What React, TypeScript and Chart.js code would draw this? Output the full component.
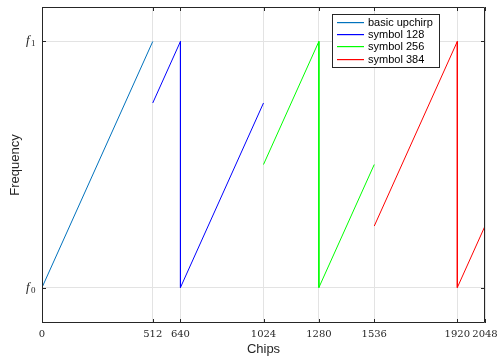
import React, { useEffect, useRef } from "react";
import { Chart, registerables } from "chart.js";

Chart.register(...registerables);

const seriesNames = ["basic upchirp", "symbol 128", "symbol 256", "symbol 384"];
const seriesColors = ["#0072BD", "#0000FF", "#00FF00", "#FF0000"];

const chipsBasic = [0, 512];
const freqBasic = [0, 1];
const chips128 = [512, 640, 640, 1024];
const freq128 = [0.75, 1, 0, 0.75];
const chips256 = [1024, 1280, 1280, 1536];
const freq256 = [0.5, 1, 0, 0.5];
const chips384 = [1536, 1920, 1920, 2048];
const freq384 = [0.25, 1, 0, 0.25];

const xTicks = [0, 512, 640, 1024, 1280, 1536, 1920, 2048];
const yTicks = [0, 1];
const yTickBase = ["f", "f"];
const yTickSub = ["0", "1"];

const zip = (xs: number[], ys: number[]) => xs.map((x, i) => ({ x, y: ys[i] }));

const seriesData = [
  zip(chipsBasic, freqBasic),
  zip(chips128, freq128),
  zip(chips256, freq256),
  zip(chips384, freq384),
];

const decorPlugin = {
  id: "decor",
  afterDraw(chart: any) {
    const ctx = chart.ctx;
    const a = chart.chartArea;
    const xs = chart.scales.x;
    const ys = chart.scales.y;
    ctx.save();
    ctx.globalAlpha = 1;
    ctx.setLineDash([]);
    ctx.strokeStyle = "#262626";
    ctx.lineWidth = 1;
    ctx.beginPath();
    ctx.moveTo(a.left + 0.5, a.top + 0.5);
    ctx.lineTo(a.right - 0.5, a.top + 0.5);
    ctx.lineTo(a.right - 0.5, a.bottom - 0.5);
    ctx.lineTo(a.left + 0.5, a.bottom - 0.5);
    ctx.closePath();
    ctx.stroke();
    const tl = 4;
    ctx.beginPath();
    xTicks.forEach((v) => {
      const px = Math.round(xs.getPixelForValue(v)) + 0.5;
      ctx.moveTo(px, a.bottom);
      ctx.lineTo(px, a.bottom - tl);
      ctx.moveTo(px, a.top);
      ctx.lineTo(px, a.top + tl);
    });
    yTicks.forEach((v) => {
      const py = Math.round(ys.getPixelForValue(v)) + 0.5;
      ctx.moveTo(a.left, py);
      ctx.lineTo(a.left + tl, py);
      ctx.moveTo(a.right, py);
      ctx.lineTo(a.right - tl, py);
    });
    ctx.stroke();
    // y tick labels (f with subscript)
    ctx.fillStyle = "#262626";
    ctx.textAlign = "left";
    ctx.textBaseline = "alphabetic";
    yTicks.forEach((v, i) => {
      const py = ys.getPixelForValue(v);
      ctx.font = "italic 13px 'Liberation Serif', 'DejaVu Serif', serif";
      ctx.fillText(yTickBase[i], 26, py + 3);
      ctx.font = "9px 'Liberation Serif', 'DejaVu Serif', serif";
      ctx.fillText(yTickSub[i], 31, py + 5);
    });
    // legend
    const lx = 332.5, ly = 14.5, lw = 107, lh = 53;
    ctx.fillStyle = "#ffffff";
    ctx.fillRect(lx, ly, lw, lh);
    ctx.strokeStyle = "#262626";
    ctx.strokeRect(lx, ly, lw, lh);
    ctx.font = "11px 'Liberation Sans', Arial, sans-serif";
    ctx.textBaseline = "middle";
    ctx.textAlign = "left";
    for (let i = 0; i < seriesNames.length; i++) {
      const ry = Math.round(22 + i * 12.2);
      ctx.fillStyle = seriesColors[i];
      ctx.fillRect(337, ry, 27, 1.2);
      ctx.fillStyle = "#000000";
      ctx.fillText(seriesNames[i], 368, ry + 1);
    }
    ctx.restore();
  },
};

export default function App() {
  const ref = useRef<HTMLCanvasElement | null>(null);
  useEffect(() => {
    if (!ref.current) return;
    const chart = new Chart(ref.current, {
      type: "line",
      data: {
        datasets: seriesData.map((d, i) => ({
          label: seriesNames[i],
          data: d,
          borderColor: seriesColors[i],
          backgroundColor: seriesColors[i],
          borderWidth: 1,
          pointRadius: 0,
          tension: 0,
          fill: false,
        })),
      },
      options: {
        responsive: false,
        animation: false,
        layout: { padding: { left: 0, right: 12, top: 7, bottom: 0 } },
        plugins: {
          legend: { display: false },
          tooltip: { enabled: false },
        },
        scales: {
          x: {
            type: "linear",
            min: 0,
            max: 2048,
            afterBuildTicks: (scale: any) => {
              scale.ticks = xTicks.map((v) => ({ value: v }));
            },
            afterFit: (scale: any) => {
              scale.height = 36;
              scale.paddingLeft = 0;
              scale.paddingRight = 0;
            },
            ticks: {
              autoSkip: false,
              maxRotation: 0,
              padding: 5,
              color: "#262626",
              font: { family: "'DejaVu Serif', 'Liberation Serif', serif", size: 10 },
              callback: (v: any) => String(v),
            },
            grid: { color: "#e3e3e3", drawTicks: false, tickLength: 0 },
            border: { display: false },
            title: {
              display: true,
              text: "Chips",
              color: "#262626",
              font: { family: "'Liberation Sans', Arial, sans-serif", size: 13 },
              padding: { top: 0, bottom: 2 },
            },
          },
          y: {
            type: "linear",
            min: -0.144,
            max: 1.14,
            afterBuildTicks: (scale: any) => {
              scale.ticks = yTicks.map((v) => ({ value: v }));
            },
            afterFit: (scale: any) => {
              scale.width = 42;
              scale.paddingTop = 0;
              scale.paddingBottom = 0;
            },
            ticks: {
              display: false,
            },
            grid: { color: "#e3e3e3", drawTicks: false, tickLength: 0 },
            border: { display: false },
            title: {
              display: true,
              text: "Frequency",
              color: "#262626",
              font: { family: "'Liberation Sans', Arial, sans-serif", size: 13 },
              padding: { top: 8, bottom: 0 },
            },
          },
        },
      },
      plugins: [decorPlugin],
    } as any);
    return () => chart.destroy();
  }, []);
  return (
    <div style={{ position: "fixed", left: 0, top: 0, width: 497, height: 359, background: "#fff" }}>
      <canvas ref={ref} width={497} height={359} style={{ width: 497, height: 359, display: "block" }} />
    </div>
  );
}
